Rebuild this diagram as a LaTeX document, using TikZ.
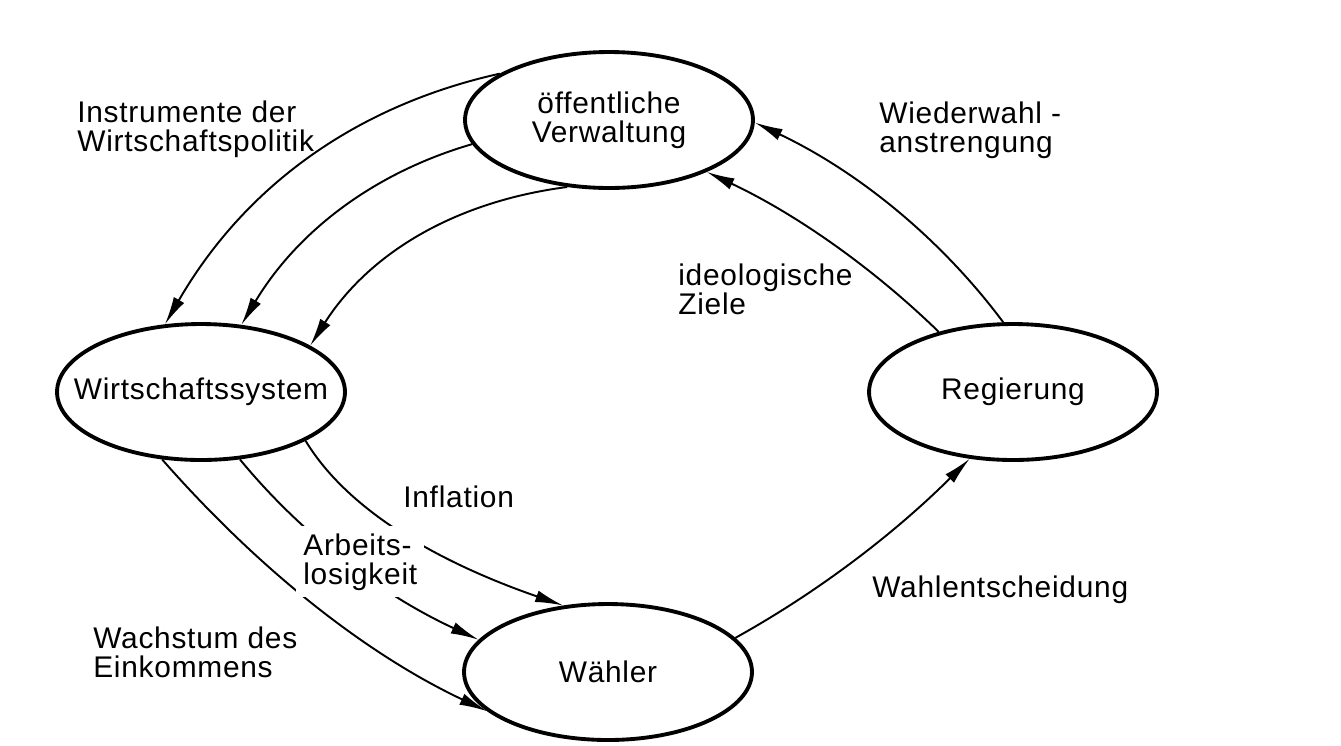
\documentclass[tikz,border=0pt]{standalone}
\usepackage{fontspec}
\setmainfont[LetterSpace=2.5]{Liberation Sans}
\usetikzlibrary{arrows.meta,shapes.geometric}
\begin{document}
\begin{tikzpicture}[x=0.02cm,y=-0.02cm,
  state/.style={draw, ellipse, line width=2.2pt, minimum width=5.76cm, minimum height=2.72cm, inner ysep=0pt, inner xsep=-0.6cm, align=center, font=\fontsize{17}{16.5}\selectfont},
  flow/.style={line width=1.1pt, -{Latex[length=0.56cm,width=0.24cm]}},
  lbl/.style={align=left, inner sep=0pt, anchor=base west, font=\fontsize{17}{16.5}\selectfont}]
\useasboundingbox[fill=white] (0,0) rectangle (1341,745);
\node[state] (verw) at (609,120) {öffentliche\\Verwaltung};
\node[state] (wirt) at (201,392) {Wirtschaftssystem};
\node[state] (reg) at (1013,392) {Regierung};
\node[state] (wae) at (608,672) {Wähler};
% Verwaltung -> Wirtschaftssystem
\draw[flow] (verw.157) .. controls (350,107) and (242,191) .. (wirt.118);
\draw[flow] (verw.190) .. controls (373,173) and (297,232) .. (wirt.59);
\draw[flow] (verw.238) .. controls (452,202) and (368,255) .. (wirt.23);
% Regierung -> Verwaltung
\draw[flow] (reg.98) .. controls (939,236) and (855,170) .. (verw.-1);
\draw[flow] (reg.141) .. controls (871,266) and (794,213) .. (verw.-28);
% Waehler -> Regierung
\draw[flow] (wae.15) .. controls (818,592) and (894,534) .. (reg.237);
% Wirtschaftssystem -> Waehler
\draw[flow] (wirt.-25) .. controls (345,506) and (429,559) .. (wae.124);
\draw[flow] (wirt.-60) .. controls (303,536) and (382,595) .. (wae.166);
\draw[flow] (wirt.240) .. controls (261,572) and (368,655) .. (wae.198);
% labels
\node[lbl] (l1) at (77,151) {Instrumente der\\Wirtschaftspolitik};
\node[lbl] (l2) at (879,152) {Wiederwahl -\\anstrengung};
\node[lbl] (l3) at (678,314) {ideologische\\Ziele};
\node[lbl] (l4) at (403,507) {Inflation};
\node[lbl, fill=white, inner sep=4pt] (l5) at (296,584) {Arbeits-\\losigkeit};
\node[lbl] (l6) at (872,597) {Wahlentscheidung};
\node[lbl] (l7) at (93,677) {Wachstum des\\Einkommens};
\end{tikzpicture}
\end{document}
